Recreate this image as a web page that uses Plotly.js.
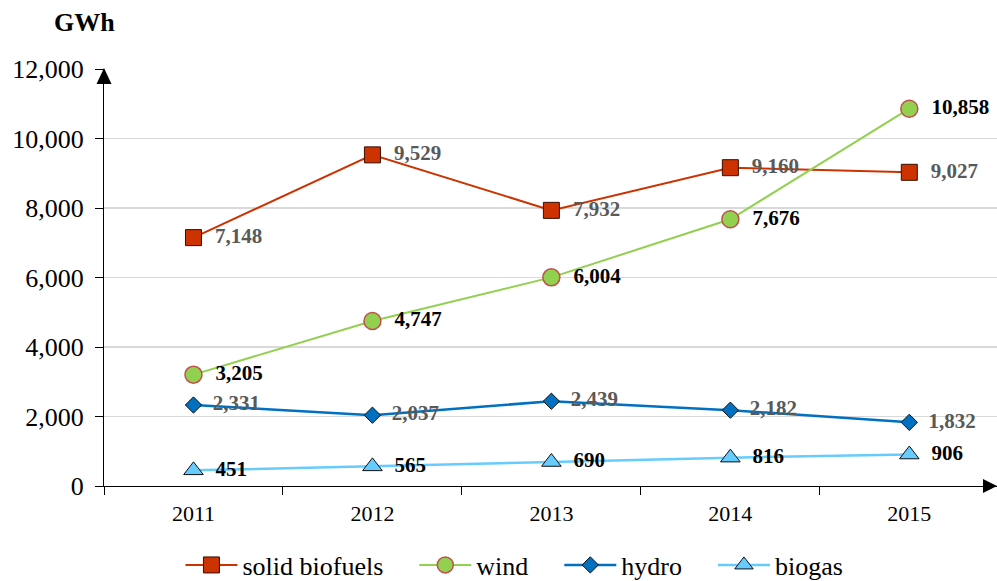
<!DOCTYPE html>
<html>
<head>
<meta charset="utf-8">
<script src="https://cdn.plot.ly/plotly-3.0.1.min.js"></script>
<style>html,body{margin:0;padding:0;background:#fff;}#chart{width:997px;height:581px;}</style>
</head>
<body>
<div id="chart"></div>
<script>
const years = ['2011', '2012', '2013', '2014', '2015'];
const solidBiofuels = [7148, 9529, 7932, 9160, 9027];
const wind = [3205, 4747, 6004, 7676, 10858];
const hydro = [2331, 2037, 2439, 2182, 1832];
const biogas = [451, 565, 690, 816, 906];
const seriesNames = ['solid biofuels', 'wind', 'hydro', 'biogas'];
const yTickVals = [0, 2000, 4000, 6000, 8000, 10000, 12000];
const unitLabel = 'GWh';

const FONT = 'Liberation Serif, Times New Roman, serif';
const PAD = '\u00a0\u00a0\u00a0\u00a0';

function series(name, vals, lineColor, lineWidth, symbol, size, fill, outline, outlineW, labelColor, last) {
  return {
    type: 'scatter', mode: 'lines+markers+text', name: last ? name : name + PAD,
    x: years, y: vals,
    line: {color: lineColor, width: lineWidth},
    marker: {symbol: symbol, size: size, color: fill, line: {color: outline, width: outlineW}},
    texttemplate: '\u00a0\u00a0%{y:,}', textposition: 'middle right',
    textfont: {family: FONT, size: 21, color: labelColor, weight: 'bold'},
    cliponaxis: false, hoverinfo: 'skip'
  };
}

const data = [
  series(seriesNames[0], solidBiofuels, '#cc3300', 2, 'square', 16, '#cc3300', '#3a0d00', 1, '#595959', false),
  series(seriesNames[1], wind, '#92d050', 2, 'circle', 17, '#92d050', '#c0504d', 1.5, '#000000', false),
  series(seriesNames[2], hydro, '#0070c0', 2.5, 'diamond', 12.5, '#0070c0', '#111111', 1, '#595959', false),
  series(seriesNames[3], biogas, '#66ccff', 2.5, 'triangle-up', 17, '#66ccff', '#111111', 1, '#000000', true)
];

const layout = {
  width: 997, height: 581,
  margin: {l: 104, r: 0, t: 69, b: 95},
  paper_bgcolor: '#ffffff', plot_bgcolor: '#ffffff',
  font: {family: FONT, color: '#000000'},
  showlegend: true,
  legend: {
    orientation: 'h', xref: 'container', yref: 'container',
    x: 0.516, xanchor: 'center', y: 0.0275, yanchor: 'middle',
    font: {family: FONT, size: 26, color: '#000000'},
    itemwidth: 52, tracegroupgap: 0
  },
  xaxis: {
    type: 'category', range: [-0.5, 4.49],
    showline: true, linecolor: '#000000', linewidth: 1,
    showgrid: false, zeroline: false,
    ticks: 'outside', tickson: 'boundaries', ticklen: 8, tickcolor: '#000000',
    tickfont: {family: FONT, size: 22, color: '#000000'},
    ticklabelstandoff: 8, fixedrange: true
  },
  yaxis: {
    range: [0, 12000], tickvals: yTickVals, tickformat: ',d',
    showline: true, linecolor: '#000000', linewidth: 1,
    showgrid: true, gridcolor: '#d9d9d9', gridwidth: 1.5, zeroline: false,
    ticks: 'outside', ticklen: 8, tickcolor: '#000000',
    tickfont: {family: FONT, size: 26, color: '#000000'},
    ticklabelstandoff: 6, fixedrange: true
  },
  shapes: [
    {type: 'path', xref: 'paper', yref: 'paper', xsizemode: 'pixel', ysizemode: 'pixel',
     xanchor: 1, yanchor: 0, path: 'M0,0 L-14,7 L-14,-7 Z',
     fillcolor: '#000000', line: {width: 0}, layer: 'above'},
    {type: 'path', xref: 'paper', yref: 'paper', xsizemode: 'pixel', ysizemode: 'pixel',
     xanchor: 0, yanchor: 1, path: 'M0,1 L-7.5,-15 L7.5,-15 Z',
     fillcolor: '#000000', line: {width: 0}, layer: 'above'}
  ],
  annotations: [
    {text: '<b>' + unitLabel + '</b>', xref: 'paper', yref: 'paper',
     x: -0.0213, y: 1.1127, xanchor: 'center', yanchor: 'middle', showarrow: false,
     font: {family: FONT, size: 26, color: '#000000'}}
  ]
};

Plotly.newPlot('chart', data, layout, {displayModeBar: false, staticPlot: true});
</script>
</body>
</html>
